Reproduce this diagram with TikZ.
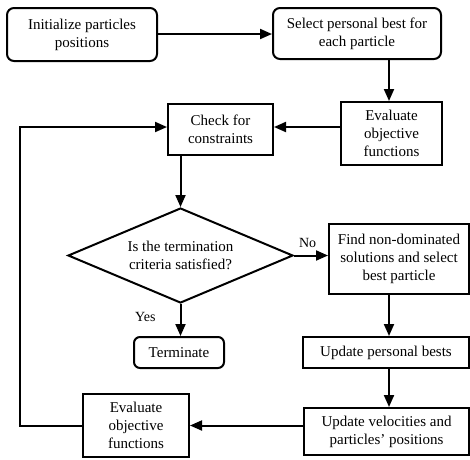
\documentclass[tikz,border=0pt]{standalone}
\usepackage{fontspec}
\setmainfont{Liberation Serif}
\usetikzlibrary{shapes.geometric,arrows.meta}
\begin{document}
\begin{tikzpicture}[x=1pt,y=-1pt,
  every node/.style={font=\fontsize{15}{18}\selectfont, align=center, inner sep=0pt},
  box/.style={draw, line width=2pt},
  rbox/.style={box, rounded corners=7pt},
  conn/.style={line width=2pt, -{Triangle[length=12pt,width=10pt]}},
  lbl/.style={font=\fontsize{14}{16}\selectfont}]
\useasboundingbox (0,0) rectangle (470,459);
\node[rbox, minimum width=150pt, minimum height=53pt] (init) at (82,34.5) {Initialize particles\\positions};
\node[rbox, minimum width=168pt, minimum height=51pt] (sel) at (357,33.5) {Select personal best for\\each particle};
\node[box, minimum width=101pt, minimum height=63pt] (ev1) at (391.5,133.5) {Evaluate\\objective\\functions};
\node[box, minimum width=105pt, minimum height=51pt] (chk) at (220.5,129.5) {Check for\\constraints};
\node[draw, line width=2pt, diamond, aspect=2.4, minimum width=225pt, minimum height=95pt] (dia) at (180.5,255.5) {Is the termination\\criteria satisfied?};
\node[box, minimum width=140pt, minimum height=70pt] (find) at (399,259) {Find non-dominated\\solutions and select\\best particle};
\node[box, minimum width=166pt, minimum height=31pt] (upb) at (386,352.5) {Update personal bests};
\node[box, minimum width=165pt, minimum height=47pt] (upv) at (386.5,431.5) {Update velocities and\\particles' positions};
\node[box, minimum width=106pt, minimum height=63pt] (ev2) at (136,425.5) {Evaluate\\objective\\functions};
\node[rbox, minimum width=90pt, minimum height=31pt, rounded corners=6pt] (term) at (179,352.5) {Terminate};
\coordinate (lb) at (20,425.5);
\draw[conn] (init.east |- 0,34) -- (sel.west |- 0,34);
\draw[conn] (sel.south -| 389,0) -- (ev1.north -| 389,0);
\draw[conn] (ev1.west |- 0,127) -- (chk.east |- 0,127);
\draw[conn] (chk.south -| dia.north) -- (dia.north);
\draw[conn] (dia.east) -- (dia.east -| find.west) node[lbl, pos=0.4, above=7pt] {No};
\draw[conn] (find.south -| 389,0) -- (upb.north -| 389,0);
\draw[conn] (upb.south -| 389,0) -- (upv.north -| 389,0);
\draw[conn] (upv.west |- ev2.east) -- (ev2.east);
\draw[conn] (ev2.west) -- (lb) |- (chk.west |- 0,127);
\draw[conn] (dia.south) -- (term.north -| dia.south) node[lbl, pos=0.42, left=24pt] {Yes};
\end{tikzpicture}
\end{document}
